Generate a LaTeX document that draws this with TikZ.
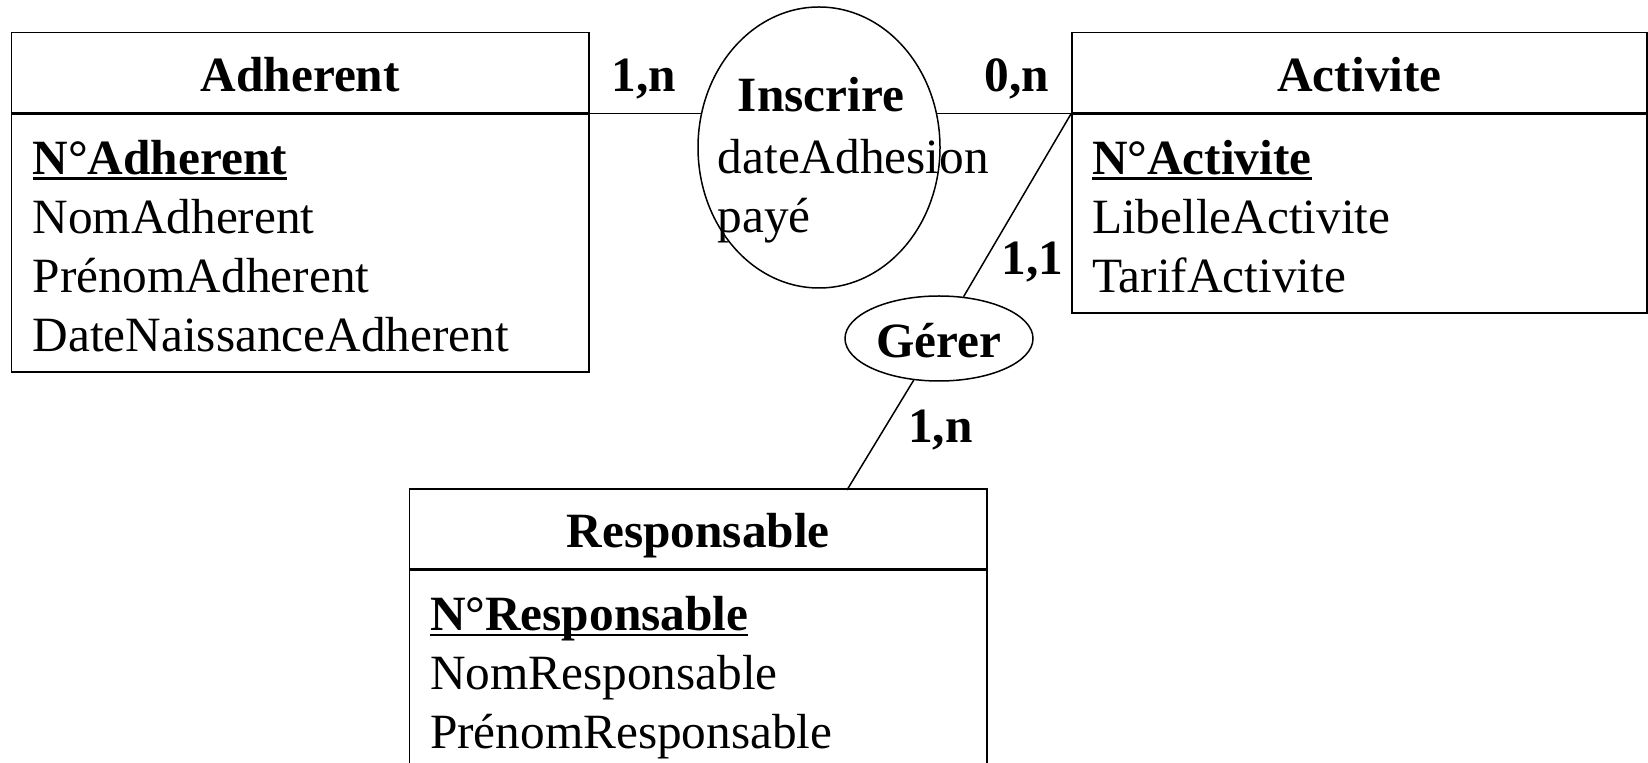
\documentclass[tikz,border=0pt]{standalone}
\usepackage{fontspec}
\setmainfont{Liberation Serif}
\usetikzlibrary{positioning, shapes.geometric, calc}
\newsavebox{\clebox}
\newcommand{\Cle}[1]{\sbox{\clebox}{\textbf{#1}}\rlap{\rule[-2.8pt]{\wd\clebox}{1.2pt}}\usebox{\clebox}}
\tikzset{
    erfont/.style={font=\fontsize{24.65pt}{29.5pt}\selectfont},
    erbold/.style={font=\fontsize{24.65pt}{29.5pt}\selectfont\bfseries},
    enthead/.style={draw, erbold, minimum width=288.7pt, minimum height=40pt, inner sep=0pt, text height=19pt, text depth=0pt},
    entbody/.style={draw, minimum width=288.7pt, inner sep=0pt},
    attrs/.style={erfont, align=left, inner sep=0pt},
    assoc/.style={draw, ellipse, inner sep=0pt},
    card/.style={erbold, inner sep=0pt, anchor=base},
}

\begin{document}
\begin{tikzpicture}[x=0.5pt, y=-0.5pt, line width=0.75pt]
    \useasboundingbox (0,0) rectangle (1648,763);
    \clip (0,0) rectangle (1648,763);

    % entites
    \node[enthead] (adh) at (300.3,72.7) {Adherent};
    \node[entbody, minimum height=129pt, below=0pt of adh] (adhbody) {};
    \node[attrs, below right=12.8pt and 10.5pt of adhbody.north west] (adhattr)
      {\Cle{N°Adherent}\\NomAdherent\\PrénomAdherent\\DateNaissanceAdherent};

    \node[enthead, minimum width=287.5pt] (act) at (1359.5,72.7) {Activite};
    \node[entbody, minimum width=287.5pt, minimum height=99.5pt, below=0pt of act] (actbody) {};
    \node[attrs, below right=12.8pt and 10pt of actbody.north west] (actattr)
      {\Cle{N°Activite}\\LibelleActivite\\TarifActivite};

    \node[enthead] (resp) at (698.3,529) {Responsable};
    \node[entbody, minimum height=99.5pt, below=0pt of resp] (respbody) {};
    \node[attrs, below right=12.8pt and 10.2pt of respbody.north west] (respattr)
      {\Cle{N°Responsable}\\NomResponsable\\PrénomResponsable};

    % associations
    \node[assoc, minimum width=121pt, minimum height=140.5pt] (inscrire) at (819,147.5) {};
    \node[erbold, inner sep=0pt, anchor=base] (inscrireT) at ($(inscrire.center)+(2,-35.5)$) {Inscrire};
    \node[attrs, anchor=north west] (inscrireA) at ($(inscrire.center)+(-102,-9.2)$) {dateAdhesion\\payé};

    \node[assoc, erbold, minimum width=94pt, minimum height=42.5pt, text height=19pt, text depth=0pt] (gerer) at (939,338.5) {Gérer};

    % liaisons
    \coordinate (respjoin) at (847,490);
    \draw (adh.south east) -- (adh.south east -| inscrire.163.5);
    \draw (act.south west -| inscrire.16.5) -- (act.south west);
    \draw (act.south west) -- (gerer);
    \draw (gerer) -- (respjoin);

    % cardinalites
    \node[card] (card1) at (644,92) {1,n};
    \node[card] (card2) at (1017,92) {0,n};
    \node[card] (card3) at (1032.5,275) {1,1};
    \node[card] (card4) at (940.5,443) {1,n};
\end{tikzpicture}
\end{document}
